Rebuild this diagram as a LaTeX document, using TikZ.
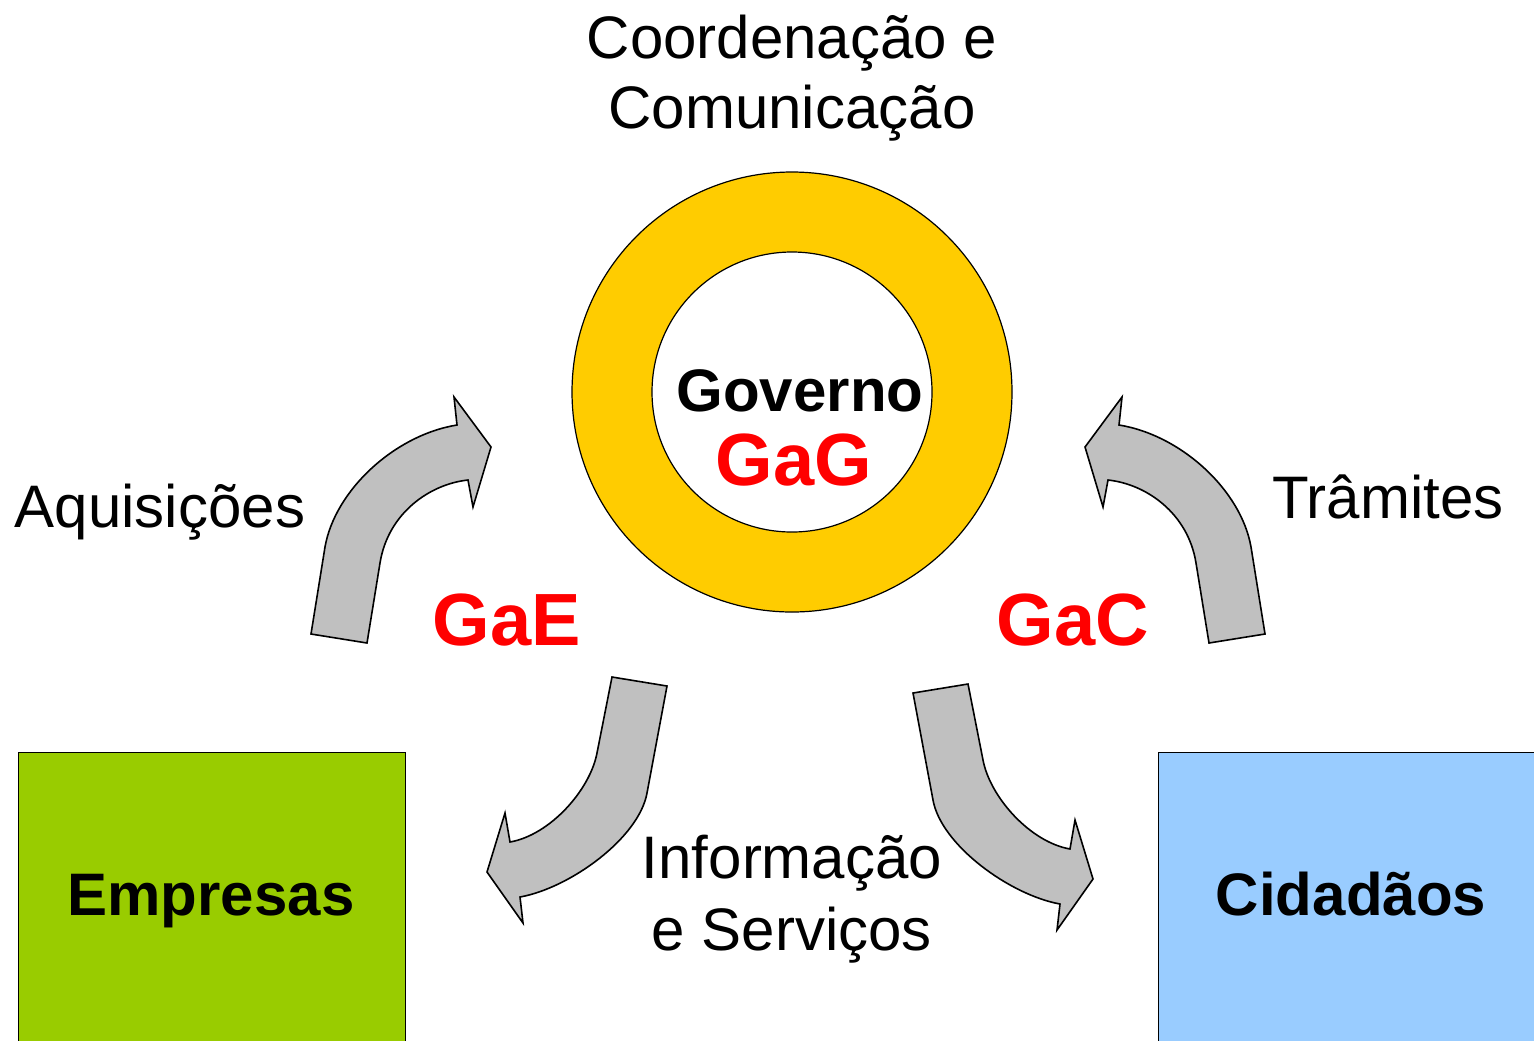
\documentclass[tikz,border=0pt]{standalone}
\usepackage{fontspec}
\setmainfont{Liberation Sans}
\definecolor{ringyellow}{HTML}{FFCC00}
\definecolor{firmgreen}{HTML}{99CC00}
\definecolor{citizenblue}{HTML}{99CCFF}
\definecolor{arrowgray}{HTML}{C0C0C0}
\begin{document}
\begin{tikzpicture}[x=0.5pt,y=-0.5pt,
  plain text/.style={font=\fontsize{30}{35}\selectfont,anchor=base},
  party text/.style={font=\fontsize{30}{35}\selectfont\bfseries,anchor=base},
  flow text/.style={font=\fontsize{37}{40}\selectfont\bfseries,text=red,anchor=base},
  party box/.style={draw,line width=0.6pt,anchor=north west,minimum height=150pt,minimum width=193.5pt},
  block arrow/.style={draw,fill=arrowgray,line width=0.8pt,line join=miter}]
        \clip (0,0) rectangle (1534,1040);

        \node[circle,draw,fill=ringyellow,line width=0.6pt,minimum size=220pt,inner sep=0] at (792,392) (ring) {};
        \node[circle,draw,fill=white,line width=0.6pt,minimum size=140pt,inner sep=0] at (792,392) (core) {};

        \node[party box,fill=firmgreen] at (18,752) (firmbox) {};
        \node[party box,fill=citizenblue] at (1158,752) (citizenbox) {};

        % curved block arrows
        \draw[block arrow] (311,634) -- (325,547) .. controls (335,490) and (395,435) .. (457,425)
            -- (454,397) -- (491,447) -- (473,507) -- (468,480)
            .. controls (430,484) and (388,513) .. (380,563) -- (367,643) -- cycle;
        \draw[block arrow] (1265,634) -- (1251,547) .. controls (1241,490) and (1181,435) .. (1119,425)
            -- (1122,397) -- (1085,447) -- (1103,507) -- (1108,480)
            .. controls (1146,484) and (1188,513) .. (1196,563) -- (1209,643) -- cycle;
        \draw[block arrow] (612,677) -- (597,753) .. controls (590,790) and (550,835) .. (510,842)
            -- (505,813) -- (487,872) -- (523,923) -- (520,897)
            .. controls (570,888) and (639,838) .. (647,793) -- (667,686) -- cycle;
        \draw[block arrow] (968,684) -- (983,760) .. controls (990,797) and (1030,842) .. (1070,849)
            -- (1075,820) -- (1093,879) -- (1057,930) -- (1060,904)
            .. controls (1010,895) and (941,845) .. (933,800) -- (913,693) -- cycle;

        \node[plain text] at (792,58) (coord) {Coordenação e};
        \node[plain text] at (792,128) (comm) {Comunicação};
        \node[party text] at (800,411) (gov) {Governo};
        \node[flow text] at (794,485) (gag) {GaG};
        \node[flow text] at (507,645) (gae) {GaE};
        \node[flow text] at (1073,645) (gac) {GaC};
        \node[plain text] at (160,527) (acq) {Aquisições};
        \node[plain text] at (1388,518) (proc) {Trâmites};
        \node[plain text] at (792,878) (info) {Informação};
        \node[plain text] at (792,950) (serv) {e Serviços};
        \node[party text] at (211,915) (firms) {Empresas};
        \node[party text] at (1351,915) (citizens) {Cidadãos};
\end{tikzpicture}
\end{document}
